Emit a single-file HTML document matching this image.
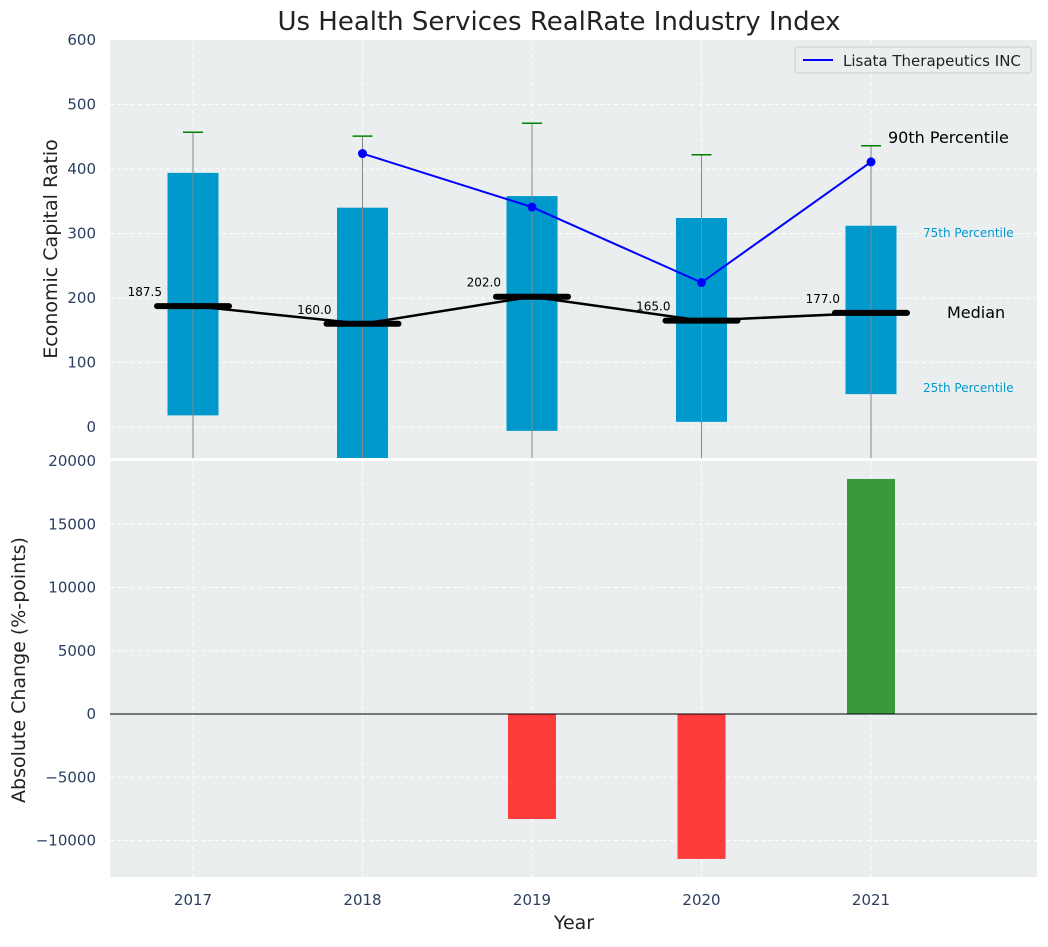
<!DOCTYPE html>
<html><head><meta charset="utf-8"><style>
body{margin:0;background:#fff;font-family:"Liberation Sans","DejaVu Sans",sans-serif}
</style></head><body>
<svg id="chart" width="1048" height="942" xmlns="http://www.w3.org/2000/svg" font-family="DejaVu Sans, Liberation Sans, sans-serif">
<rect x="110" y="40" width="927" height="418" fill="#eaeeef"/>
<rect x="110" y="461" width="927" height="416" fill="#eaeeef"/>
<g id="grid"></g><g id="marks"></g><g id="labels"></g>
<text x="559" y="30" text-anchor="middle" font-size="26" fill="#222">Us Health Services RealRate Industry Index</text>
<text transform="translate(57,249) rotate(-90)" text-anchor="middle" font-size="19" fill="#222">Economic Capital Ratio</text>
<text transform="translate(25,670) rotate(-90)" text-anchor="middle" font-size="19" fill="#222">Absolute Change (%-points)</text>
<text x="574" y="929" text-anchor="middle" font-size="19" fill="#222">Year</text>
<g>
<rect x="795" y="47" width="236" height="26" fill="#eaeeef" stroke="#ccc" rx="3"/>
<line x1="803" y1="60" x2="833" y2="60" stroke="#0000ff" stroke-width="2"/>
<text x="843" y="66" font-size="15" fill="#222">Lisata Therapeutics INC</text>
</g>
<text x="888" y="143" font-size="16" fill="#000">90th Percentile</text>
<text x="923" y="237" font-size="12" fill="#0099cc">75th Percentile</text>
<text x="947" y="318" font-size="16" fill="#000">Median</text>
<text x="923" y="392" font-size="12" fill="#0099cc">25th Percentile</text>
</svg>
<script>
const years=[2017,2018,2019,2020,2021];
const p25=[18,-60,-6,8,51];
const p75=[394,340,358,324,312];
const p90=[457,451,471,422,436];
const medians=[187.5,160,202,165,177];
const company=[null,424,341,224,411];
const changes=[0,0,-8300,-11460,18580];
const topTicks=[0,100,200,300,400,500,600];
const botTicks=[-10000,-5000,0,5000,10000,15000,20000];
const NS="http://www.w3.org/2000/svg";
const X=v=>193+(v-2017)*169.5;
const Y1=v=>427-v*0.645;
const Y2=v=>714-v*0.01265;
function mk(tag,attrs,parent,txt){const e=document.createElementNS(NS,tag);for(const k in attrs)e.setAttribute(k,attrs[k]);if(txt!=null)e.textContent=txt;document.getElementById(parent).appendChild(e);return e;}
topTicks.forEach(t=>{const y=Y1(t);
 if(t<600){const g=mk('line',{x1:110,x2:1037,y1:y,y2:y,stroke:'#fff','stroke-dasharray':'4,3'},'grid');}
 const l=mk('text',{x:96,y:y+5,'text-anchor':'end','font-size':15,fill:'#2a3f5f'},'labels',t);});
botTicks.forEach(t=>{const y=Y2(t);
 if(t<20000){const g=mk('line',{x1:110,x2:1037,y1:y,y2:y,stroke:'#fff','stroke-dasharray':'4,3'},'grid');}
 const l=mk('text',{x:96,y:y+5,'text-anchor':'end','font-size':15,fill:'#2a3f5f'},'labels',t<0?'\u2212'+(-t):t);});
years.forEach(yr=>{const x=X(yr);
 [[40,458],[461,877]].forEach(r=>{const g=mk('line',{x1:x,x2:x,y1:r[0],y2:r[1],stroke:'#fff','stroke-dasharray':'4,3'},'grid');});
 const l=mk('text',{x:x,y:905,'text-anchor':'middle','font-size':15,fill:'#2a3f5f'},'labels',yr);});
years.forEach((yr,i)=>{const x=X(yr);
 const top=Y1(p75[i]),bot=Math.min(458,Y1(p25[i]));
 const b=mk('rect',{x:x-25.5,y:top,width:51,height:bot-top,fill:'#0099cc'},'marks');
 const w=mk('line',{x1:x,x2:x,y1:Y1(p90[i]),y2:458,stroke:'#888','stroke-width':1},'marks');
 const c=mk('line',{x1:x-10,x2:x+10,y1:Y1(p90[i]),y2:Y1(p90[i]),stroke:'#008000','stroke-width':1.5},'marks');
 const m=mk('line',{x1:x-36,x2:x+36,y1:Y1(medians[i]),y2:Y1(medians[i]),stroke:'#000','stroke-width':6,'stroke-linecap':'round'},'marks');
 const t=mk('text',{x:x-31,y:Y1(medians[i])-10,'text-anchor':'end','font-size':12,fill:'#000'},'labels',medians[i].toFixed(1));
 if(changes[i]!==0){const y0=Y2(0),y1=Y2(changes[i]);
  const r=mk('rect',{x:x-24,y:Math.min(y0,y1),width:48,height:Math.abs(y1-y0),fill:changes[i]<0?'#ff3c3c':'#3a9a3a'},'marks');}
});
const mp=mk('polyline',{points:years.map((y,i)=>X(y)+','+Y1(medians[i])).join(' '),fill:'none',stroke:'#000','stroke-width':2.5},'marks');

const pts=years.map((y,i)=>company[i]==null?null:[X(y),Y1(company[i])]).filter(p=>p);
const cl=mk('polyline',{points:pts.map(p=>p.join(',')).join(' '),fill:'none',stroke:'#0000ff','stroke-width':2},'marks');

pts.forEach(p=>{const c=mk('circle',{cx:p[0],cy:p[1],r:4.5,fill:'#0000ff'},'marks');});
const z=mk('line',{x1:110,x2:1037,y1:Y2(0),y2:Y2(0),stroke:'#000','stroke-width':1},'marks');

</script>
</body></html>
